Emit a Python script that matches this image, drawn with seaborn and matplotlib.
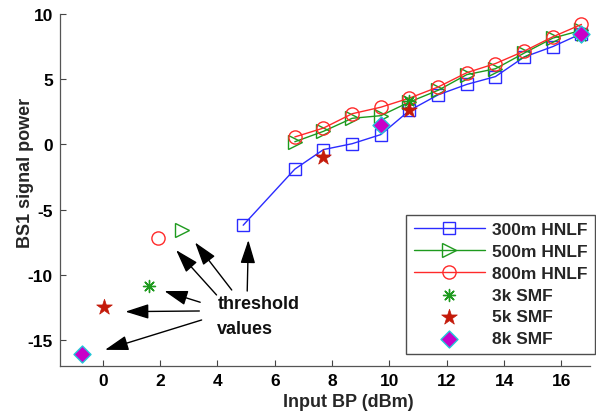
import matplotlib
matplotlib.use("Agg")
import matplotlib.pyplot as plt
import seaborn as sns

# Input BP (dBm) and BS1 signal power for each fibre
x_hnlf = [6.7, 7.7, 8.7, 9.7, 10.7, 11.7, 12.7, 13.7, 14.7, 15.7, 16.7]
x_300m = [4.9] + x_hnlf
y_300m = [-6.2, -1.9, -0.4, 0.05, 0.75, 2.6, 3.8, 4.6, 5.2, 6.7, 7.5, 8.5]
y_500m = [0.2, 1.0, 2.0, 2.2, 3.25, 4.15, 5.35, 5.8, 7.0, 8.15, 8.75]
y_800m = [0.57, 1.25, 2.35, 2.85, 3.55, 4.4, 5.5, 6.2, 7.15, 8.25, 9.2]

# threshold points of the 500m and 800m HNLF
thr_500m = (2.75, -6.6)
thr_800m = (1.92, -7.2)

# SMF measurements
x_3k = [1.61, 10.7, 16.7]
y_3k = [-10.85, 3.3, 8.3]
x_5k = [0.06, 7.7, 10.7]
y_5k = [-12.5, -1.0, 2.6]
x_8k = [-0.73, 9.7, 16.7]
y_8k = [-16.1, 1.5, 8.5]

# arrows: (tail x, tail y, head x, head y)
arrows = [
    (5.04, -11.25, 5.08, -7.34),
    (4.50, -11.17, 3.22, -7.52),
    (3.97, -11.55, 2.56, -8.11),
    (3.40, -12.11, 2.15, -11.25),
    (3.37, -12.78, 0.79, -12.83),
    (3.45, -13.47, 0.08, -15.76),
]

sns.set_theme(style="white")
plt.rcParams["font.family"] = ["Liberation Sans", "DejaVu Sans"]
plt.rcParams["font.weight"] = "bold"
plt.rcParams["axes.unicode_minus"] = False

fig = plt.figure(figsize=(5.96, 4.14), dpi=100)
ax = fig.add_axes([0.1002, 0.1135, 0.8899, 0.8503])

blue = "#2b2bff"
green = "#1e9a1e"
red = "#ff2a2a"
star_c = "#c41a0a"
mag = "#c800c8"
cyan = "#22c8d8"

sns.lineplot(x=x_300m, y=y_300m, ax=ax, color=blue, lw=1.0, marker="s",
             markersize=8, markerfacecolor="none", markeredgecolor=blue,
             markeredgewidth=1.0, sort=False, label="300m HNLF")
sns.lineplot(x=x_hnlf, y=y_500m, ax=ax, color=green, lw=1.0, marker=">",
             markersize=9.5, markerfacecolor="none", markeredgecolor=green,
             markeredgewidth=1.0, sort=False, label="500m HNLF")
sns.lineplot(x=x_hnlf, y=y_800m, ax=ax, color=red, lw=1.0, marker="o",
             markersize=9.5, markerfacecolor="none", markeredgecolor=red,
             markeredgewidth=1.0, sort=False, label="800m HNLF")
ax.plot([thr_500m[0]], [thr_500m[1]], ls="none", marker=">", ms=9.5,
        mfc="none", mec=green, mew=1.0)
ax.plot([thr_800m[0]], [thr_800m[1]], ls="none", marker="o", ms=9.5,
        mfc="none", mec=red, mew=1.0)

sns.scatterplot(x=x_3k, y=y_3k, ax=ax, marker=(8, 2, 0), s=75,
                color=green, linewidth=1.0, label="3k SMF", zorder=4)
sns.scatterplot(x=x_5k, y=y_5k, ax=ax, marker="*", s=140,
                color=star_c, edgecolor=star_c, linewidth=0.5,
                label="5k SMF", zorder=5)
sns.scatterplot(x=x_8k, y=y_8k, ax=ax, marker="D", s=75,
                color=mag, edgecolor=cyan, linewidth=1.0,
                label="8k SMF", zorder=6)

for tx, ty, hx, hy in arrows:
    ax.annotate("", xy=(hx, hy), xytext=(tx, ty),
                arrowprops=dict(arrowstyle="-|>,head_length=1.2,head_width=0.38",
                                color="black", lw=1.0, shrinkA=0, shrinkB=0))
ax.text(4.0, -12.2, "threshold", fontsize=13, fontweight="bold",
        ha="left", va="center", color="#111111")
ax.text(4.0, -14.1, "values", fontsize=13, fontweight="bold",
        ha="left", va="center", color="#111111")

ax.set_xlim(-1.5, 17)
ax.set_ylim(-17, 10)
ax.set_xticks([0, 2, 4, 6, 8, 10, 12, 14, 16])
ax.set_yticks([-15, -10, -5, 0, 5, 10])
ax.tick_params(direction="in", length=4, width=0.8, colors="#444444",
               labelsize=12.5, labelcolor="black", left=True, bottom=True,
               pad=5)
for lbl in ax.get_xticklabels() + ax.get_yticklabels():
    lbl.set_fontweight("bold")
for side in ("top", "right"):
    ax.spines[side].set_visible(False)
for side in ("left", "bottom"):
    ax.spines[side].set_color("#555555")
    ax.spines[side].set_linewidth(0.9)

ax.set_xlabel("Input BP (dBm)", fontsize=13, fontweight="bold")
ax.set_ylabel("BS1 signal power", fontsize=13, fontweight="bold")
ax.xaxis.set_label_coords(0.545, -0.078)
ax.yaxis.set_label_coords(-0.048, 0.55)

leg = ax.legend(loc="lower right", bbox_to_anchor=(1.01, 0.034),
                fontsize=12.5, frameon=True, fancybox=False, handlelength=4.1,
                handletextpad=0.4, labelspacing=0.38, borderpad=0.45,
                borderaxespad=0)
leg.get_frame().set_edgecolor("#222222")
leg.get_frame().set_linewidth(1.0)
for t in leg.get_texts():
    t.set_fontweight("bold")

fig.savefig("out.png", dpi=100)
